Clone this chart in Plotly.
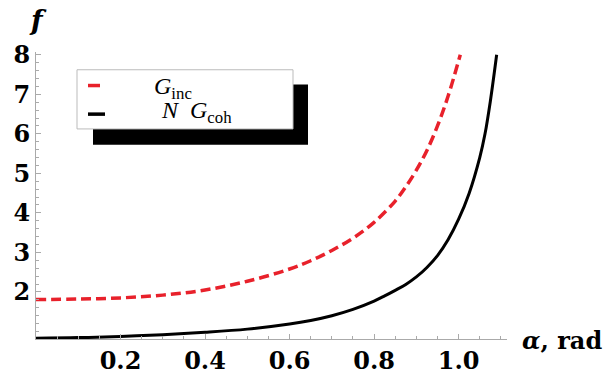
import plotly.graph_objects as go

# ---- data ----
alpha_inc = [0.0, 0.1, 0.2, 0.3, 0.4, 0.5, 0.6, 0.65, 0.70, 0.75, 0.80, 0.85, 0.875, 0.90,
             0.925, 0.95, 0.975, 1.004]
f_inc = [1.81, 1.82, 1.85, 1.92, 2.05, 2.27, 2.58, 2.79, 3.05, 3.36, 3.76, 4.30, 4.66, 5.08,
         5.58, 6.20, 6.95, 8.00]

alpha_coh = [0.0, 0.1, 0.2, 0.3, 0.4, 0.5, 0.6, 0.65, 0.70, 0.75, 0.80, 0.825, 0.85, 0.875, 0.90,
             0.925, 0.95, 0.975, 1.0, 1.025, 1.05, 1.0625, 1.075, 1.090]
f_coh = [0.83, 0.845, 0.875, 0.92, 0.98, 1.06, 1.19, 1.28, 1.40, 1.56, 1.77, 1.90, 2.04, 2.19, 2.38,
         2.62, 2.92, 3.32, 3.84, 4.50, 5.40, 6.00, 6.82, 8.00]

x_ticks = [0.2, 0.4, 0.6, 0.8, 1.0]
x_labels = ["0.2", "0.4", "0.6", "0.8", "1.0"]
y_ticks = [2, 3, 4, 5, 6, 7, 8]
y_labels = ["2", "3", "4", "5", "6", "7", "8"]

legend_labels = ["<i>G</i><sub>inc</sub>", "<i>N</i>  <i>G</i><sub>coh</sub>"]

FONT = "Liberation Serif"
BFONT = "DejaVu Serif"
W, H = 612, 387
L, R, T, B = 36, 105, 52, 44
PW, PH = W - L - R, H - T - B


def px(x):
    return (x - L) / PW


def py(y):
    return (H - B - y) / PH


fig = go.Figure()
fig.add_trace(go.Scatter(x=alpha_inc, y=f_inc, mode="lines",
                         line=dict(color="#e8212b", width=3.5, dash="10px,5px", shape="spline", smoothing=1.0),
                         showlegend=False))
fig.add_trace(go.Scatter(x=alpha_coh, y=f_coh, mode="lines",
                         line=dict(color="black", width=3, shape="spline", smoothing=1.0),
                         showlegend=False))

axis_common = dict(showline=True, linecolor="#aaaaaa", linewidth=1.2, ticks="inside",
                   tickcolor="#aaaaaa", ticklen=5, tickwidth=1, showgrid=False, zeroline=False,
                   tickfont=dict(family=BFONT, size=24, color="black", weight="bold"))

fig.update_xaxes(range=[0, 1.1145], tickvals=x_ticks, ticktext=x_labels,
                 minor=dict(dtick=0.05, tick0=0, ticks="inside", ticklen=3, tickcolor="#aaaaaa"),
                 **axis_common)
fig.update_yaxes(range=[0.81, 8.07], tickvals=y_ticks, ticktext=y_labels,
                 minor=dict(dtick=0.2, tick0=0, ticks="inside", ticklen=3, tickcolor="#aaaaaa"),
                 **axis_common)

shapes = []
# legend shadow
shapes.append(dict(type="rect", xref="paper", yref="paper", x0=px(93), x1=px(308), y0=py(146), y1=py(85),
                   fillcolor="black", line=dict(width=0), layer="above"))
# legend box
shapes.append(dict(type="rect", xref="paper", yref="paper", x0=px(77), x1=px(293), y0=py(130), y1=py(70),
                   fillcolor="white", line=dict(color="#bbbbbb", width=1), layer="above"))
# legend swatches
shapes.append(dict(type="line", xref="paper", yref="paper", x0=px(88), x1=px(100), y0=py(86), y1=py(86),
                   line=dict(color="#e8212b", width=3.5), layer="above"))
shapes.append(dict(type="line", xref="paper", yref="paper", x0=px(88), x1=px(105), y0=py(115), y1=py(115),
                   line=dict(color="black", width=3.5), layer="above"))

annotations = [
    dict(text=legend_labels[0], xref="paper", yref="paper", x=px(152), y=py(89), xanchor="left", yanchor="middle",
         showarrow=False, font=dict(family=FONT, size=24, color="black")),
    dict(text=legend_labels[1], xref="paper", yref="paper", x=px(159), y=py(113), xanchor="left", yanchor="middle",
         showarrow=False, font=dict(family=FONT, size=24, color="black")),
    dict(text="<i>f</i>", xref="paper", yref="paper", x=px(38), y=py(20), xanchor="center", yanchor="middle",
         showarrow=False, font=dict(family=BFONT, size=27, color="black", weight="bold")),
    dict(text="<i>α</i>, rad", xref="paper", yref="paper", x=px(520), y=py(345), xanchor="left",
         yanchor="middle", showarrow=False, font=dict(family=BFONT, size=24, color="black", weight="bold")),
]

fig.update_layout(width=W, height=H, margin=dict(l=L, r=R, t=T, b=B), paper_bgcolor="white",
                  plot_bgcolor="white", shapes=shapes, annotations=annotations, showlegend=False)

fig.write_html("out.html")
